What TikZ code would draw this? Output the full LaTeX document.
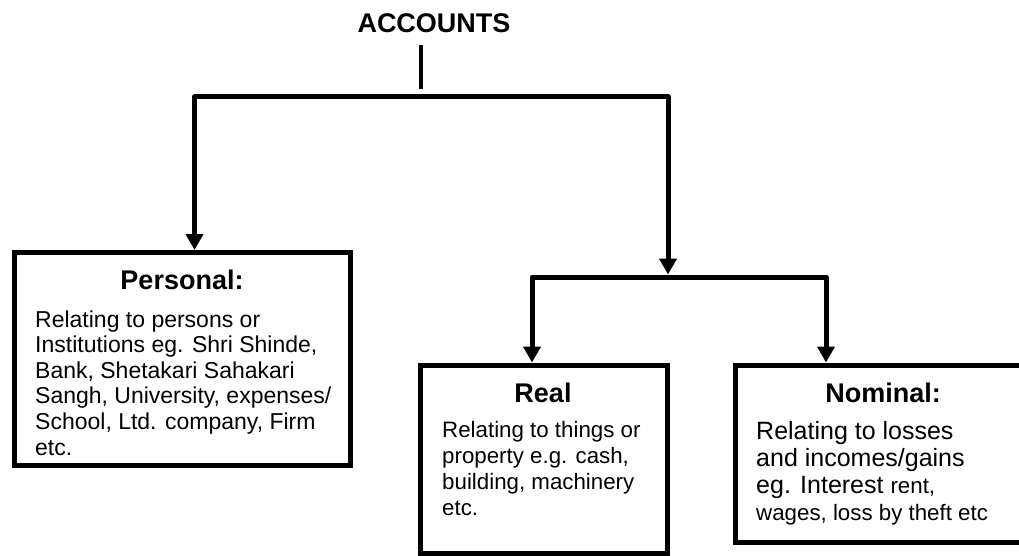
\documentclass[tikz,border=0pt]{standalone}
\usepackage{fontspec}
\setmainfont{Liberation Sans}
\usetikzlibrary{arrows.meta}
\begin{document}
\begin{tikzpicture}[x=1pt,y=-1pt,
  box/.style={draw, line width=5pt, inner sep=0pt},
  ttl/.style={font=\bfseries\fontsize{27}{30}\selectfont, anchor=base, inner sep=0pt},
  body/.style={anchor=base west, inner sep=0pt},
  conn/.style={line width=5pt, line join=round},
  tipboth/.style={{Triangle[width=17pt,length=16pt]}-{Triangle[width=17pt,length=16pt]}},
  stub/.style={line width=4pt}
]
\useasboundingbox (0,0) rectangle (1019,556);
\clip (0,0) rectangle (1019,556);

% title
\node[ttl] (acc) at (434,33) {ACCOUNTS};

% boxes
\node[box, minimum width=336.5pt, minimum height=212.5pt] (personal) at (182.25,358.75) {};
\node[box, minimum width=247.5pt, minimum height=188pt] (real) at (543.75,459) {};
\node[box, minimum width=294.5pt, minimum height=177.5pt] (nominal) at (882.75,453.75) {};

% box titles
\node[ttl] (ptitle) at (182,289) {Personal:};
\node[ttl] (rtitle) at (543,402) {Real};
\node[ttl] (ntitle) at (883,402) {Nominal:};

% box texts
\node[body] (ptext) at (35,327) {\parbox[t]{320pt}{\fontsize{23}{25.6}\selectfont\raggedright
Relating to persons or\\
Institutions eg. Shri Shinde,\\
Bank, Shetakari Sahakari\\
Sangh, University, expenses/\\
School, Ltd. company, Firm\\
etc.}};
\node[body] (rtext) at (442,437) {\parbox[t]{220pt}{\fontsize{22.3}{26.3}\selectfont\raggedright
Relating to things or\\
property e.g. cash,\\
building, machinery\\
etc.}};
\node[body] (ntext) at (756,439) {\parbox[t]{260pt}{\fontsize{25}{27}\selectfont\raggedright
Relating to losses\\
and incomes/gains\\
eg. Interest {\fontsize{22.3}{27}\selectfont rent,}\\
{\fontsize{22.3}{27}\selectfont wages, loss by theft etc}}};

% connectors
\coordinate (s1) at (421,45);
\coordinate (s2) at (421,89);
\coordinate (bL) at (194.5,97);
\coordinate (bR) at (668,97);
\coordinate (rj) at (668,277);
\coordinate (rL) at (532,277);
\coordinate (rR) at (826,277);

\draw[stub] (s1) -- (s2);
\draw[conn, tipboth] (personal.north -| bL) |- (bR) -- ([yshift=2.5pt]rj);
\draw[conn, tipboth] (real.north -| rL) |- (rj) -| (nominal.north -| rR);
\end{tikzpicture}
\end{document}
